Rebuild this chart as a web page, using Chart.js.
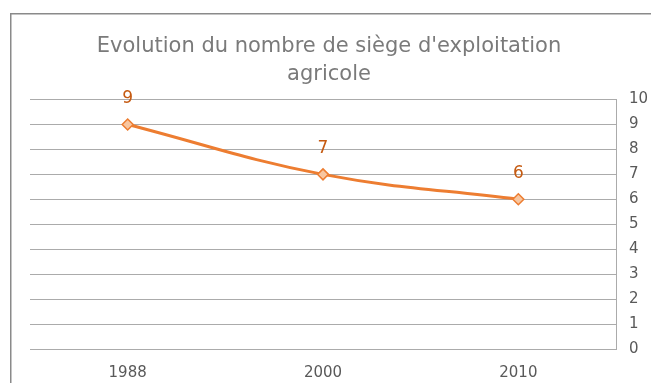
<!DOCTYPE html>
<html>
<head>
<meta charset="utf-8">
<script src="https://cdn.jsdelivr.net/npm/chart.js@4/dist/chart.umd.min.js"></script>
<style>
  html, body { margin: 0; padding: 0; background: #ffffff; }
  canvas { display: block; }
</style>
</head>
<body>
<canvas id="chart" width="651" height="383"></canvas>
<script>
// Nombre de sièges d'exploitation agricole par recensement
const years = ['1988', '2000', '2010'];
const sieges = [9, 7, 6];
const yTicks = [0, 1, 2, 3, 4, 5, 6, 7, 8, 9, 10];
const titleLines = ["Evolution du nombre de siège d'exploitation", 'agricole'];

const FONT = "'DejaVu Sans', sans-serif";
const ORANGE = '#ed7d31';
const GRID = '#ababab';

// Cadre gris autour du graphique
const framePlugin = {
  id: 'frame',
  beforeDraw(chart) {
    const ctx = chart.ctx;
    ctx.save();
    ctx.strokeStyle = '#8a8a8a';
    ctx.lineWidth = 1.5;
    ctx.strokeRect(10.75, 13.75, 800, 500);
    ctx.restore();
  }
};

// Titre centré sur le cadre (et non sur la zone de tracé)
const frameTitle = {
  id: 'frameTitle',
  afterDraw(chart) {
    const ctx = chart.ctx;
    ctx.save();
    ctx.font = '21px ' + FONT;
    ctx.fillStyle = '#7a7a7a';
    ctx.textAlign = 'center';
    ctx.textBaseline = 'middle';
    titleLines.forEach((line, i) => {
      ctx.fillText(line, 329, 47 + i * 27.3);
    });
    ctx.restore();
  }
};

// Étiquettes de valeur au-dessus de chaque point
const valueLabels = {
  id: 'valueLabels',
  afterDatasetsDraw(chart) {
    const ctx = chart.ctx;
    const meta = chart.getDatasetMeta(0);
    const data = chart.data.datasets[0].data;
    ctx.save();
    ctx.font = '17px ' + FONT;
    ctx.fillStyle = '#c55a11';
    ctx.textAlign = 'center';
    ctx.textBaseline = 'middle';
    meta.data.forEach((pt, i) => {
      ctx.fillText(String(data[i]), pt.x, pt.y - 26);
    });
    ctx.restore();
  }
};

new Chart(document.getElementById('chart'), {
  type: 'line',
  data: {
    labels: years,
    datasets: [{
      data: sieges,
      borderColor: ORANGE,
      borderWidth: 3,
      tension: 0.4,
      cubicInterpolationMode: 'default',
      pointStyle: 'rectRot',
      pointRadius: 5.5,
      pointBackgroundColor: '#f8c6a0',
      pointBorderColor: ORANGE,
      pointBorderWidth: 1.5
    }]
  },
  options: {
    responsive: false,
    animation: false,
    events: [],
    layout: { padding: { left: 30, right: 0, top: 99.5, bottom: 0 } },
    plugins: {
      legend: { display: false },
      tooltip: { enabled: false },
      title: { display: false }
    },
    scales: {
      x: {
        offset: true,
        grid: { display: false, drawTicks: false },
        border: { display: false },
        ticks: {
          color: '#595959',
          font: { family: FONT, size: 15 },
          padding: 15,
          maxRotation: 0
        },
        afterFit(scale) { scale.height = 34; }
      },
      y: {
        position: 'right',
        min: 0,
        max: 10,
        afterBuildTicks(scale) { scale.ticks = yTicks.map(v => ({ value: v })); },
        grid: { color: GRID, lineWidth: 1, drawTicks: false },
        border: { display: true, color: GRID, width: 1 },
        ticks: {
          color: '#595959',
          font: { family: FONT, size: 15 },
          padding: 13
        },
        afterFit(scale) { scale.width = 35; }
      }
    }
  },
  plugins: [framePlugin, frameTitle, valueLabels]
});
</script>
</body>
</html>
